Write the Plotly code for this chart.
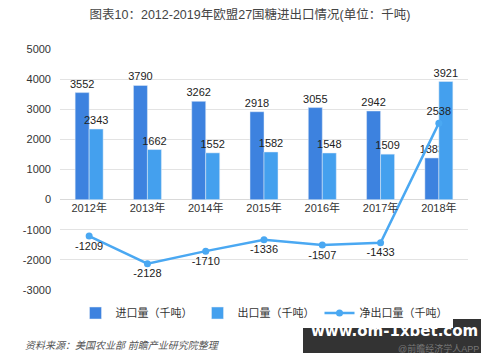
import plotly.graph_objects as go

years = ["2012年", "2013年", "2014年", "2015年", "2016年", "2017年", "2018年"]
imports = [3552, 3790, 3262, 2918, 3055, 2942, 1383]
exports = [2343, 1662, 1552, 1582, 1548, 1509, 3921]
net = [-1209, -2128, -1710, -1336, -1507, -1433, 2538]
y_ticks = [5000, 4000, 3000, 2000, 1000, 0, -1000, -2000, -3000]

FONT = "Liberation Sans, Noto Sans CJK SC, sans-serif"
C_IMP = "#3d82df"
C_EXP = "#44a0ee"
C_NET = "#4aa8f2"

fig = go.Figure()
fig.add_trace(go.Bar(x=years, y=imports, name="进口量（千吨）", marker_color=C_IMP,
                     text=imports, textposition="outside", cliponaxis=False, constraintext="none",
                     textfont=dict(size=11, color="#222")))
fig.add_trace(go.Bar(x=years, y=exports, name="出口量（千吨）", marker_color=C_EXP,
                     text=exports, textposition="outside", cliponaxis=False, constraintext="none",
                     textfont=dict(size=11, color="#222")))
net_pos = ["bottom center"] * (len(net) - 1) + ["top center"]
fig.add_trace(go.Scatter(x=years, y=net, name="净出口量（千吨）", mode="lines+markers+text",
                         line=dict(color=C_NET, width=2.5), marker=dict(size=7, color=C_NET),
                         text=net, textposition=net_pos, cliponaxis=False,
                         textfont=dict(size=11, color="#222")))

fig.update_layout(
    width=500, height=362,
    margin=dict(l=60, r=32, t=49, b=72, autoexpand=False),
    paper_bgcolor="white", plot_bgcolor="white",
    font=dict(family=FONT, size=11, color="#333"),
    barmode="group", bargap=0.52, bargroupgap=0,
    title=dict(text="图表10：2012-2019年欧盟27国糖进出口情况(单位：千吨)", x=0.5, xanchor="center",
               y=1 - 15 / 362, yanchor="middle", font=dict(size=12.5, color="#444")),
    showlegend=True,
    legend=dict(orientation="h", x=0.5, xanchor="center", yref="container", y=1 - 313 / 362,
                yanchor="middle", font=dict(size=11, color="#333"), itemwidth=30,
                traceorder="normal"),
    xaxis=dict(anchor="free", position=0.375, showline=False, ticks="",
               tickfont=dict(size=11, color="#333"), showgrid=False),
    yaxis=dict(range=[-3000, 5000], tickvals=y_ticks, ticktext=[str(v) for v in y_ticks],
               showgrid=True, gridcolor="#e3e3e3", gridwidth=1, zeroline=True,
               zerolinecolor="#d9d9d9", zerolinewidth=1, tickfont=dict(size=11, color="#333"),
               ticks="", ticklabelstandoff=8),
)

H = 362 - 49 - 72
W = 500 - 60 - 32


def px(x):
    return (x - 60) / W


def py(y):
    return (362 - 72 - y) / H


fig.add_annotation(text="<i>资料来源：美国农业部 前瞻产业研究院整理</i>", xref="paper", yref="paper",
                   x=px(23), y=py(345), xanchor="left", yanchor="middle", showarrow=False,
                   font=dict(size=10, color="#555"))
fig.add_shape(type="rect", xref="paper", yref="paper", x0=px(303), x1=px(481),
              y0=py(353), y1=py(319), fillcolor="#333", line=dict(width=0), layer="above")
fig.add_annotation(text="<b>www.om-1xbet.com</b>", xref="paper", yref="paper",
                   x=px(394), y=py(331), xanchor="center", yanchor="middle",
                   showarrow=False, font=dict(size=15, color="white", family="DejaVu Sans"))
fig.add_annotation(text="@前瞻经济学人APP", xref="paper", yref="paper",
                   x=px(481), y=py(348), xanchor="right", yanchor="middle",
                   showarrow=False, font=dict(size=9, color="#777"))

fig.write_html("out.html", config={"displayModeBar": False},
               post_script="document.body.style.margin='0';")
